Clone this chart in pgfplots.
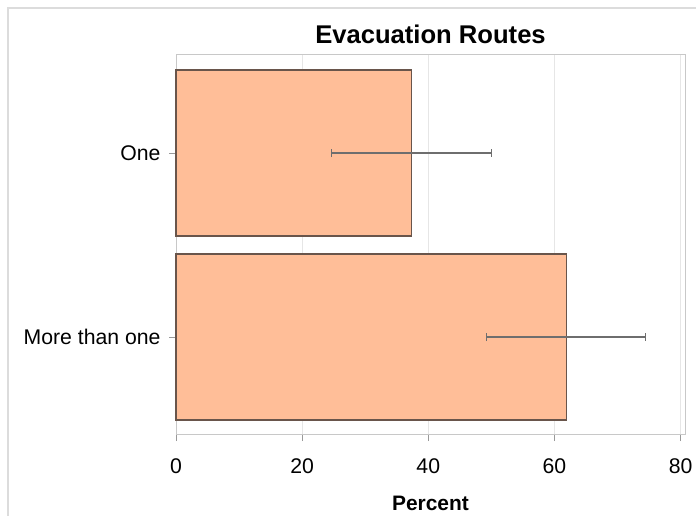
\documentclass[border=0pt]{standalone}
\usepackage{fontspec}
\setmainfont{Liberation Sans}
\usepackage{pgfplots}
\pgfplotsset{compat=1.18}
\definecolor{barfill}{RGB}{255,190,152}
\definecolor{baredge}{RGB}{105,85,75}
\definecolor{errc}{RGB}{110,110,110}
\definecolor{framec}{RGB}{200,200,200}
\definecolor{gridc}{RGB}{230,230,230}
\begin{document}
\begin{tikzpicture}
\path[use as bounding box] (0,0) rectangle (696bp,516bp);
\draw[color=gridc!90!gray, line width=2bp] (8bp,0) -- (8bp,508bp) -- (696bp,508bp);
\begin{axis}[
  at={(176bp,82bp)}, anchor=south west,
  scale only axis, width=509bp, height=379bp,
  xbar, bar width=166bp,
  xmin=0, xmax=80.7,
  ymin=-0.527, ymax=1.533,
  ytick={0,1}, yticklabels={More than one, One},
  xtick={0,20,40,60,80},
  xtick pos=bottom, ytick pos=left,
  xmajorgrids, major grid style={gridc, line width=1bp},
  axis line style={framec, line width=1bp},
  tick style={color=gray!80, line width=0.8bp},
  tick align=outside, major tick length=7bp,
  ticklabel style={font=\fontsize{21.3}{25}\selectfont},
  /pgf/number format/assume math mode=true,
  xticklabel style={yshift=-14bp},
  yticklabel style={xshift=-5bp},
  xlabel={\textbf{Percent}},
  xlabel style={font=\fontsize{21}{25}\selectfont, yshift=-16bp},
  title={\textbf{Evacuation Routes}},
  title style={font=\fontsize{25.7}{30}\selectfont, yshift=2bp},
  clip=false,
]
\addplot[fill=barfill, draw=baredge, line width=1.2bp,
  error bars/.cd, x dir=both, x explicit,
  error bar style={errc, line width=1.2bp},
  error mark options={rotate=90, mark size=4bp, line width=1.2bp, errc}]
  coordinates {
    (61.9,0) -= (12.7,0) += (12.5,0)
    (37.4,1) -= (12.7,0) += (12.6,0)
  };
\end{axis}
\end{tikzpicture}
\end{document}
